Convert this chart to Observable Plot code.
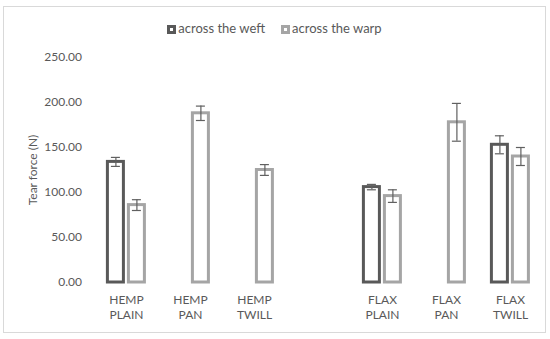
<!DOCTYPE html>
<html>
<head>
<meta charset="utf-8">
<script src="https://cdn.jsdelivr.net/npm/d3@7"></script>
<script src="https://cdn.jsdelivr.net/npm/@observablehq/plot@0.6"></script>
<style>
  html, body { margin: 0; padding: 0; background: #fff; }
  body { width: 550px; height: 339px; position: relative; overflow: hidden; font-family: Lato, "Open Sans", sans-serif; }
  #box { position: absolute; left: 3px; top: 6px; width: 541px; height: 325px; border: 1px solid #d9d9d9; }
  #legend { height: 34px; box-sizing: border-box; padding-top: 14px; text-align: center; font-size: 13px; line-height: 14px; color: #595959; white-space: nowrap; }
  .item { display: inline-block; margin: 0 8px; }
  .sw { display: inline-block; width: 9px; height: 9px; box-sizing: border-box; border: 3px solid; background: #fff; vertical-align: -1px; margin-right: 2px; }
  #chart svg { display: block; }
</style>
</head>
<body>
<div id="box">
  <div id="legend"></div>
  <div id="chart"></div>
</div>
<script>
const categories = ["HEMP PLAIN", "HEMP PAN", "HEMP TWILL", " ", "FLAX PLAIN", "FLAX PAN", "FLAX TWILL"];
const seriesNames = ["across the weft", "across the warp"];
const weft    = [134, null, null, null, 106, null, 153];
const weftErr = [5,   null, null, null, 3,   null, 10];
const warp    = [86,  188,  125,  null, 96,  178,  140];
const warpErr = [6,   8,    6,    null, 7,   21,   10];
const yTicks = [0, 50, 100, 150, 200, 250];
const colors = ["#595959", "#a5a5a5"];

const rows = [];
categories.forEach((c, i) => {
  if (weft[i] != null) rows.push({cat: c, series: seriesNames[0], value: weft[i], err: weftErr[i]});
  if (warp[i] != null) rows.push({cat: c, series: seriesNames[1], value: warp[i], err: warpErr[i]});
});

// legend
const legend = document.getElementById("legend");
seriesNames.forEach((s, i) => {
  const it = document.createElement("span");
  it.className = "item";
  const sw = document.createElement("span");
  sw.className = "sw";
  sw.style.borderColor = colors[i];
  it.appendChild(sw);
  it.appendChild(document.createTextNode(s));
  legend.appendChild(it);
});

const chart = Plot.plot({
  width: 541,
  height: 284,
  marginLeft: 89.6,
  marginRight: 3,
  marginTop: 16,
  marginBottom: 43,
  style: {fontFamily: "Lato, 'Open Sans', sans-serif", fontSize: "12px", color: "#595959", background: "transparent"},
  fx: {domain: categories, paddingInner: 0, paddingOuter: 0, axis: null},
  x: {domain: seriesNames, paddingInner: 0.25, paddingOuter: 0.583, axis: null},
  y: {domain: [0, 250]},
  color: {domain: seriesNames, range: colors},
  marks: [
    Plot.axisY({ticks: yTicks, tickFormat: d3.format(".2f"), tickSize: 0, tickPadding: 12.6,
      label: "Tear force (N)", labelAnchor: "center", labelArrow: false, labelOffset: 66}),
    Plot.text(categories, {fx: d => d, text: d => d.replace(" ", "\n"), frameAnchor: "bottom",
      lineAnchor: "top", lineHeight: 1.22, dy: 11, fill: "#595959", fontSize: 12}),
    Plot.barY(rows, {fx: "cat", x: "series", y: "value", fill: "white", stroke: "series", strokeWidth: 3}),
    Plot.ruleX(rows, {fx: "cat", x: "series", y1: d => d.value - d.err, y2: d => d.value + d.err, stroke: "#606060", strokeWidth: 1.2}),
    Plot.tickY(rows, {fx: "cat", x: "series", y: d => d.value - d.err, stroke: "#606060", strokeWidth: 1.2, insetLeft: 3.5, insetRight: 3.5}),
    Plot.tickY(rows, {fx: "cat", x: "series", y: d => d.value + d.err, stroke: "#606060", strokeWidth: 1.2, insetLeft: 3.5, insetRight: 3.5})
  ]
});
document.getElementById("chart").appendChild(chart);
</script>
</body>
</html>
